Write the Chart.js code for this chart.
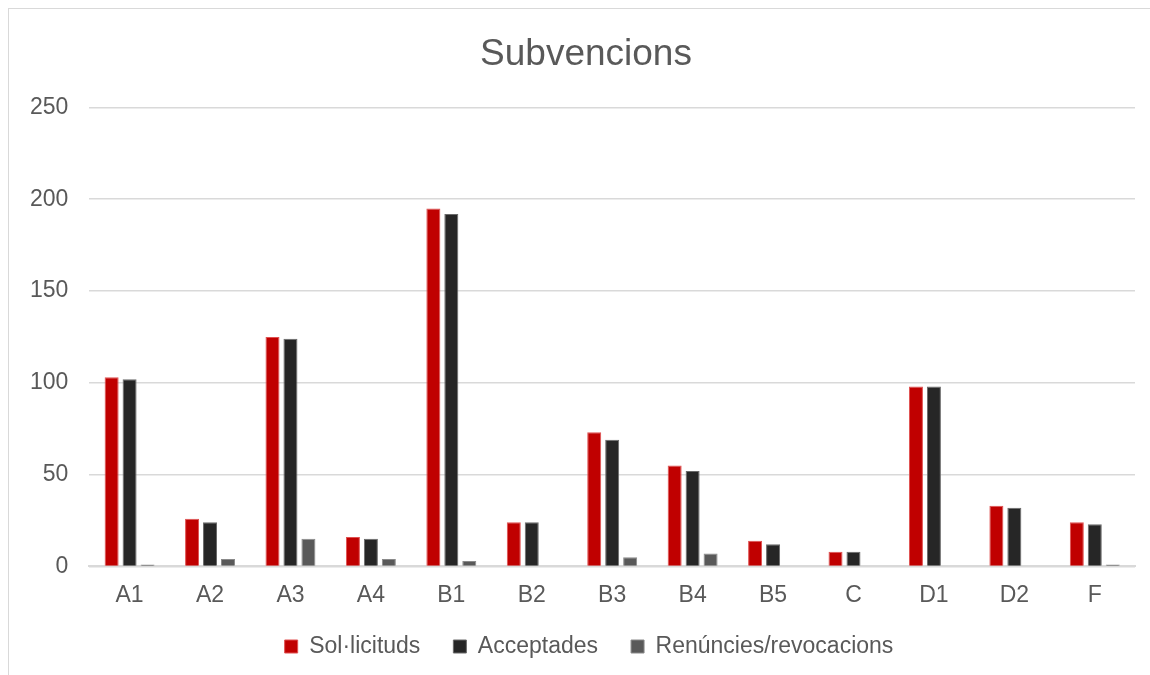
<!DOCTYPE html>
<html>
<head>
<meta charset="utf-8">
<script src="https://cdn.jsdelivr.net/npm/chart.js@4/dist/chart.umd.min.js"></script>
<style>
  html, body { margin: 0; padding: 0; background: #fff; overflow: hidden; }
  #wrap { position: absolute; left: 8px; top: 8px; width: 1150px; height: 700px; box-sizing: border-box; border: 1px solid #d9d9d9; border-right: none; border-bottom: none; }
  canvas { display: block; }
</style>
</head>
<body>
<div id="wrap"><canvas id="chart" width="1142" height="681"></canvas></div>
<script>
// dades
const categories = ['A1', 'A2', 'A3', 'A4', 'B1', 'B2', 'B3', 'B4', 'B5', 'C', 'D1', 'D2', 'F'];
const solicituds = [103, 26, 125, 16, 195, 24, 73, 55, 14, 8, 98, 33, 24];
const acceptades = [102, 24, 124, 15, 192, 24, 69, 52, 12, 8, 98, 32, 23];
const renuncies = [1, 4, 15, 4, 3, 0, 5, 7, 0, 0, 0, 0, 1];
const yTicks = [0, 50, 100, 150, 200, 250];

const font = '"Liberation Sans", Arial, sans-serif';

function bar(label, data, color, border) {
  return {
    label: label,
    data: data,
    backgroundColor: color,
    borderColor: border,
    borderWidth: 1,
    barPercentage: 0.78,
    categoryPercentage: 0.67
  };
}

// el títol i la llegenda estan una mica desplaçats
const nudge = {
  id: 'nudge',
  afterLayout(chart) {
    const t = chart.titleBlock;
    t.left += 14; t.right += 14;
    const l = chart.legend;
    l.left += 17; l.right += 17;
    l.top -= 22; l.bottom -= 22;
  }
};

new Chart(document.getElementById('chart'), {
  type: 'bar',
  data: {
    labels: categories,
    datasets: [
      bar('Sol·licituds', solicituds, '#C00000', '#e05050'),
      bar('Acceptades', acceptades, '#262626', '#6a6a6a'),
      bar('Renúncies/revocacions', renuncies, '#595959', '#8a8a8a')
    ]
  },
  plugins: [nudge],
  options: {
    responsive: false,
    animation: false,
    layout: { padding: { left: 0, right: 16, top: 0, bottom: 0 } },
    plugins: {
      title: {
        display: true,
        text: 'Subvencions',
        color: '#595959',
        font: { family: font, size: 37, weight: 'normal' },
        padding: { top: 24, bottom: 30 }
      },
      legend: {
        position: 'bottom',
        labels: {
          color: '#595959',
          font: { family: font, size: 23 },
          boxWidth: 13,
          boxHeight: 13,
          padding: 33
        }
      },
      tooltip: { enabled: false }
    },
    scales: {
      x: {
        grid: { display: false, drawTicks: false },
        border: { color: '#d9d9d9', width: 2 },
        ticks: { color: '#595959', font: { family: font, size: 23 }, padding: 15 }
      },
      y: {
        min: 0,
        max: 250,
        afterBuildTicks: (axis) => { axis.ticks = yTicks.map(v => ({ value: v })); },
        grid: { color: '#d9d9d9', lineWidth: 1.5, drawTicks: false },
        border: { display: false },
        ticks: { color: '#595959', font: { family: font, size: 23 }, padding: 21 }
      }
    }
  }
});
</script>
</body>
</html>
